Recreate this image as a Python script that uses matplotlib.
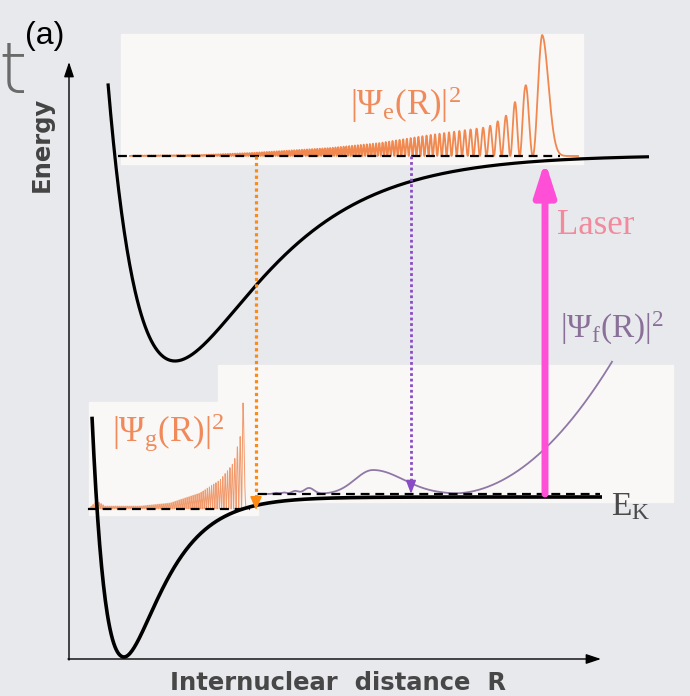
import matplotlib.pyplot as plt
from matplotlib.patches import Rectangle
import numpy as np

# schematic drawn in the picture's own pixel frame (y grows downward)

# potential curves: minimum, dissociation limit, steepness, drawn span
exc_min = [175, 361]
exc_limit = 155
exc_steep = [0.0115, 0.0115]
exc_span = [108, 649]

gnd_min = [124, 657]
gnd_limit = 497
gnd_steep = [0.025, 0.0275]   # inner wall, outer branch
gnd_span = [92, 602]

# |Psi_e|^2 : baseline, spacing of fringes, envelope, last lobe
psi_e_base = 156
psi_e_per_x = [130, 330, 380, 430, 470, 500, 520, 533, 542]
psi_e_per = [2.2, 2.6, 3.2, 4.2, 5.8, 8.0, 10.0, 17.0, 20.0]
psi_e_env_x = [130, 200, 250, 330, 380, 430, 488, 505, 515, 525, 542]
psi_e_env = [0.3, 1, 3, 8, 13, 21, 29, 39, 54, 69, 121]
psi_e_peak = [542, 121]
psi_e_end = 578

# |Psi_g|^2
psi_g_base = 509
psi_g_per_x = [88, 200, 235, 243]
psi_g_per = [2.0, 2.0, 2.5, 3.0]
psi_g_env_x = [88, 97, 105, 140, 170, 200, 220, 232, 235, 237, 240, 243]
psi_g_env = [0, 8, 3, 3, 6, 16, 29, 44, 51, 61, 71, 106]
psi_g_peak = [243, 106]
psi_g_end = 250

# |Psi_f|^2 : small bumps, then rising branch
psi_f_base = 494
psi_f_span = [258, 612]
bump_x = [276, 284, 295, 309, 373]
bump_h = [1.2, 1.5, 3.0, 6.0, 24.0]
bump_wl = [2.5, 2.5, 3.5, 5.0, 18.0]
bump_wr = [2.5, 2.5, 3.5, 5.0, 30.0]
rise_from = 450
rise_ref = [610, 129]

# transitions
orange_x, purple_x, laser_x = 256, 411, 545


def morse(x, xm, ym, ylim, steep):
    a = np.where(x < xm, steep[0], steep[1])
    return ym - (ym - ylim) * (1 - np.exp(-a * (x - xm))) ** 2


def density(x0, per_x, per, env_x, env, peak, x_end, tail):
    dx = 0.05
    x = np.arange(x0, peak[0] + dx / 2, dx)
    k = np.pi / np.interp(x, per_x, per)
    phase = np.cumsum(k[::-1])[::-1] * dx
    phase = phase - phase[-1]
    y = np.interp(x, env_x, env) * np.cos(phase) ** 2
    x2 = np.arange(peak[0] + dx, x_end, dx)
    y2 = peak[1] * np.exp(-((x2 - peak[0]) / tail) ** 2)
    return np.concatenate([x, x2]), np.concatenate([y, y2])


plt.rcParams['mathtext.fontset'] = 'custom'
plt.rcParams['mathtext.rm'] = 'Liberation Serif'
plt.rcParams['mathtext.it'] = 'Liberation Serif:italic'
plt.rcParams['mathtext.bf'] = 'Liberation Serif:bold'

fig = plt.figure(figsize=(6.9, 6.96), dpi=100, facecolor='#e8e9ed')
ax = fig.add_axes([0, 0, 1, 1])
ax.set_xlim(0, 690)
ax.set_ylim(696, 0)
ax.axis('off')

box = '#f9f8f6'
ax.add_patch(Rectangle((121, 34), 462, 130, color=box, zorder=1))
ax.add_patch(Rectangle((218, 365), 455, 137, color=box, zorder=1))
ax.add_patch(Rectangle((89, 402), 169, 113, color=box, zorder=1))

# axes with arrows
ax.annotate('', xy=(69, 62), xytext=(69, 660),
            arrowprops=dict(arrowstyle='-|>,head_width=0.3,head_length=0.9',
                            lw=1.0, color='black', shrinkA=0, shrinkB=0))
ax.annotate('', xy=(601, 659), xytext=(68, 659),
            arrowprops=dict(arrowstyle='-|>,head_width=0.3,head_length=0.9',
                            lw=1.0, color='black', shrinkA=0, shrinkB=0))

# wavefunctions
xe, ye = density(130, psi_e_per_x, psi_e_per, psi_e_env_x, psi_e_env,
                 psi_e_peak, psi_e_end, 9)
ax.plot(xe, psi_e_base - ye, color='#f0884f', lw=1.3, zorder=3)

xg, yg = density(88, psi_g_per_x, psi_g_per, psi_g_env_x, psi_g_env,
                 psi_g_peak, psi_g_end, 1.5)
ax.plot(xg, psi_g_base - yg, color='#f08a55', lw=0.7, alpha=0.85, zorder=3)

xf = np.linspace(psi_f_span[0], psi_f_span[1], 1500)
yf = np.zeros_like(xf)
for c, h, wl, wr in zip(bump_x, bump_h, bump_wl, bump_wr):
    w = np.where(xf < c, wl, wr)
    yf += h * np.exp(-0.5 * ((xf - c) / w) ** 2)
yf += np.where(xf > rise_from,
               rise_ref[1] * ((xf - rise_from) / (rise_ref[0] - rise_from)) ** 2, 0)
ax.plot(xf, psi_f_base - yf, color='#8f78a6', lw=1.3, zorder=3)

# potential curves
xu = np.linspace(exc_span[0], exc_span[1], 800)
ax.plot(xu, morse(xu, exc_min[0], exc_min[1], exc_limit, exc_steep),
        color='black', lw=2.3, zorder=4, solid_capstyle='butt')
xl = np.linspace(gnd_span[0], gnd_span[1], 800)
ax.plot(xl, morse(xl, gnd_min[0], gnd_min[1], gnd_limit, gnd_steep),
        color='black', lw=2.6, zorder=4, solid_capstyle='butt')

# energy levels
dash = (0, (4, 2.6))
ax.plot([118, 560], [psi_e_base, psi_e_base], color='black', lw=1.6, ls=dash, zorder=5)
ax.plot([88, 250], [psi_g_base, psi_g_base], color='black', lw=1.6, ls=dash, zorder=5)
ax.plot([258, 600], [psi_f_base, psi_f_base], color='black', lw=1.6, ls=dash, zorder=5)

# dotted transitions
ax.plot([orange_x, orange_x], [psi_e_base, psi_g_base - 8], color='#ff8a10',
        lw=2.3, ls=(0, (1, 1)), solid_capstyle='butt', zorder=5)
ax.annotate('', xy=(orange_x, psi_g_base + 1), xytext=(orange_x, psi_g_base - 12),
            arrowprops=dict(arrowstyle='-|>,head_width=0.35,head_length=0.8',
                            lw=1.2, color='#ff8a10', shrinkA=0, shrinkB=0), zorder=6)
ax.plot([purple_x, purple_x], [psi_e_base, psi_f_base - 8], color='#8a4cc4',
        lw=2.0, ls=(0, (1, 1)), zorder=5)
ax.annotate('', xy=(purple_x, psi_f_base), xytext=(purple_x, psi_f_base - 12),
            arrowprops=dict(arrowstyle='-|>,head_width=0.3,head_length=0.8',
                            lw=1.2, color='#8a4cc4', shrinkA=0, shrinkB=0), zorder=6)

# laser
ax.annotate('', xy=(laser_x, 161), xytext=(laser_x, psi_f_base),
            arrowprops=dict(arrowstyle='-|>,head_width=0.32,head_length=1.0',
                            lw=5, color='#ff4fd6', shrinkA=0, shrinkB=0,
                            mutation_scale=20), zorder=6)
ax.text(557, 234, 'Laser', color='#f08a9c', fontsize=25,
        fontfamily='Liberation Serif', va='baseline', ha='left')

# labels
ax.text(350, 115, r'$\mathrm{|\Psi_e(R)|^2}$', color='#f08a5a', fontsize=25,
        va='baseline', ha='left')
ax.text(112, 442, r'$\mathrm{|\Psi_g(R)|^2}$', color='#f08a5a', fontsize=25,
        va='baseline', ha='left')
ax.text(560, 338, r'$\mathrm{|\Psi_f(R)|^2}$', color='#8a7099', fontsize=24,
        va='baseline', ha='left')
ax.text(611, 515, r'$\mathrm{E_K}$', color='#4a4a4a', fontsize=24,
        va='baseline', ha='left')

ax.text(42, 144, 'Energy', rotation=90, fontsize=17.5, fontweight='bold',
        color='#444444', ha='center', va='center')
ax.text(338, 683, 'Internuclear  distance  R', fontsize=17.5, fontweight='bold',
        color='#474747', ha='center', va='center')
ax.text(25, 44, '(a)', fontsize=23, fontfamily='Liberation Sans',
        color='black', va='baseline', ha='left')
ax.text(-2, 93, 't', fontsize=52, fontfamily='DejaVu Sans', fontweight='light',
        color='#6a6a6a', va='baseline', ha='left')

fig.savefig('out.png', dpi=100, facecolor=fig.get_facecolor())
